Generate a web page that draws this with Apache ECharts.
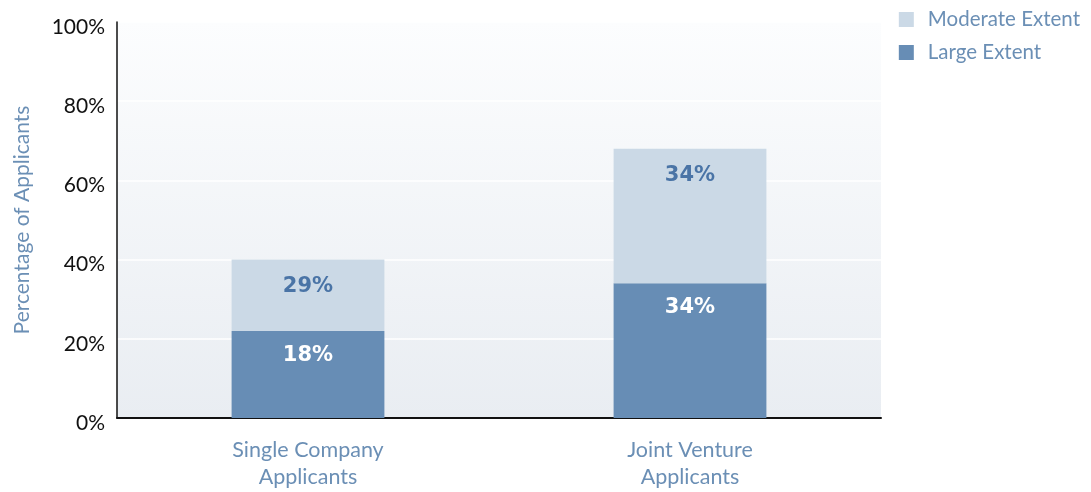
<!DOCTYPE html>
<html><head><meta charset="utf-8">
<script src="https://cdn.jsdelivr.net/npm/echarts@6/dist/echarts.min.js"></script>
<style>html,body{margin:0;padding:0;background:#fff;}#c{width:1091px;height:492px;}</style>
</head><body><div id="c"></div>
<script>
const categories = ['Single Company\nApplicants', 'Joint Venture\nApplicants'];
const largeExtent = [22, 34];
const moderateExtent = [18, 34];
const largeLabels = ['18%', '34%'];
const moderateLabels = ['29%', '34%'];
const yTicks = [0, 20, 40, 60, 80, 100];

const chart = echarts.init(document.getElementById('c'));
const FONT = 'Lato';
chart.setOption({
  animation: false,
  legend: {
    right: 6, top: 4, orient: 'vertical', itemGap: 12,
    itemWidth: 15, itemHeight: 15, icon: 'rect',
    textStyle: { color: '#6b8fb5', fontSize: 20.5, fontFamily: FONT, padding: [0, 0, 0, 9] },
    data: ['Moderate Extent', 'Large Extent']
  },
  grid: {
    left: 117, right: 210, top: 22, bottom: 74,
    show: true, borderWidth: 0,
    backgroundColor: new echarts.graphic.LinearGradient(0, 0, 0, 1, [
      { offset: 0, color: '#fcfdfe' }, { offset: 1, color: '#e9edf2' }
    ])
  },
  xAxis: {
    type: 'category', data: categories,
    axisLine: { lineStyle: { color: '#111', width: 2 } },
    axisTick: { show: false },
    axisLabel: { color: '#6b8fb5', fontSize: 21.5, fontFamily: FONT, lineHeight: 27, margin: 19 }
  },
  yAxis: {
    type: 'value', min: 0, max: 100, interval: 20,
    name: 'Percentage of Applicants', nameLocation: 'middle', nameGap: 84,
    nameTextStyle: { color: '#6b8fb5', fontSize: 21, fontFamily: FONT },
    axisLine: { show: true, lineStyle: { color: '#111', width: 1.5 } },
    axisTick: { show: false },
    splitLine: { lineStyle: { color: '#ffffff', width: 1.5 } },
    axisLabel: { color: '#111', fontSize: 21, fontFamily: FONT, margin: 12,
      verticalAlign: 'top', lineHeight: 10,
      formatter: v => yTicks.includes(v) ? v + '%' : '' }
  },
  series: [
    {
      name: 'Large Extent', type: 'bar', stack: 'a', barWidth: '40%',
      data: largeExtent, itemStyle: { color: '#678db5' },
      label: { show: true, position: 'insideTop', distance: 14,
        formatter: p => largeLabels[p.dataIndex],
        color: '#ffffff', fontSize: 21, fontWeight: 'bold', fontFamily: 'DejaVu Sans' }
    },
    {
      name: 'Moderate Extent', type: 'bar', stack: 'a', barWidth: '40%',
      data: moderateExtent, itemStyle: { color: '#cbd9e6' },
      label: { show: true, position: 'insideTop', distance: 16,
        formatter: p => moderateLabels[p.dataIndex],
        color: '#4a74a6', fontSize: 21, fontWeight: 'bold', fontFamily: 'DejaVu Sans' }
    }
  ]
});
</script></body></html>
